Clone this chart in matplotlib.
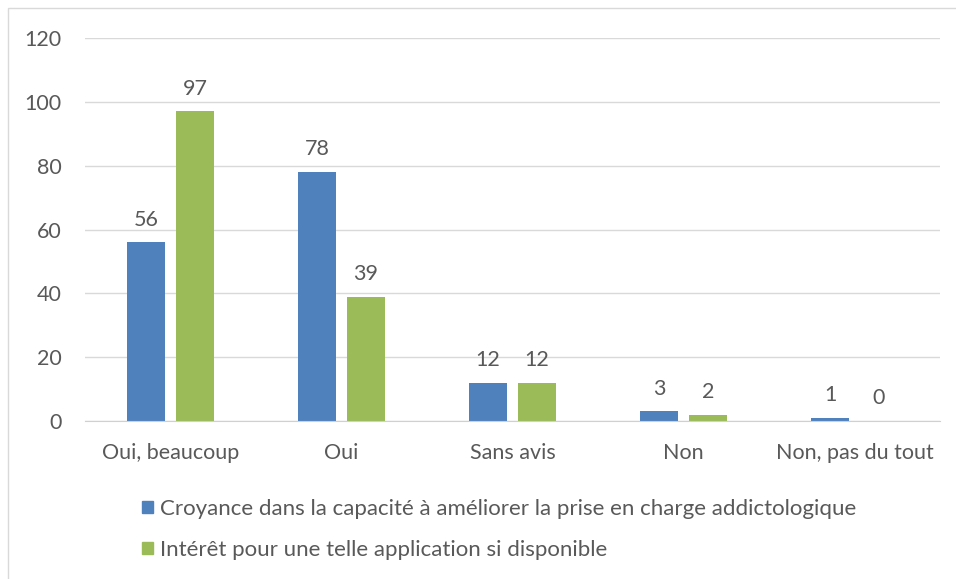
import matplotlib.pyplot as plt
import numpy as np
from matplotlib.patches import Rectangle, Patch

categories = ['Oui, beaucoup', 'Oui', 'Sans avis', 'Non', 'Non, pas du tout']
croyance = [56, 78, 12, 3, 1]
interet = [97, 39, 12, 2, 0]
series_labels = ['Croyance dans la capacité à améliorer la prise en charge addictologique',
                 'Intérêt pour une telle application si disponible']

blue = '#4F81BD'
green = '#9BBB59'
txt = '#595959'
fs = 15.5

plt.rcParams['font.family'] = ['Lato', 'DejaVu Sans']

fig = plt.figure(figsize=(9.56, 5.79), dpi=100)
W, H = 956, 579
ax = fig.add_axes([85 / W, (579 - 421) / H, (940 - 85) / W, (421 - 38) / H])

x = np.arange(len(categories))
bw = 0.222
off = 0.143
b1 = ax.bar(x - off, croyance, bw, color=blue, zorder=3)
b2 = ax.bar(x + off, interet, bw, color=green, zorder=3)

for bars, vals in ((b1, croyance), (b2, interet)):
    for r, v in zip(bars, vals):
        ax.text(r.get_x() + r.get_width() / 2, v + 4, str(v), ha='center', va='bottom',
                fontsize=fs, color=txt)

ax.set_xlim(-0.5, len(categories) - 0.5)
ax.set_ylim(0, 120)
ax.set_yticks(range(0, 121, 20))
ax.set_xticks(x)
ax.set_xticklabels(categories)
ax.tick_params(axis='both', length=0, labelsize=fs, labelcolor=txt)
ax.tick_params(axis='y', pad=17)
ax.tick_params(axis='x', pad=16)
ax.grid(axis='y', color='#D9D9D9', linewidth=1, zorder=0)
for s in ('top', 'right', 'left'):
    ax.spines[s].set_visible(False)
ax.spines['bottom'].set_color('#D0D0D0')
ax.spines['bottom'].set_zorder(4)

handles = [Patch(color=blue), Patch(color=green)]
fig.legend(handles, series_labels, loc='upper left', bbox_to_anchor=(133 / W, 1 - 490 / H),
           ncol=1, frameon=False, fontsize=16, labelcolor=txt, handlelength=0.5,
           handleheight=0.5, handletextpad=0.3, labelspacing=0.95, borderaxespad=0)

fig.patches.append(Rectangle((8 / W, -0.01), 1.02, 1 - 8 / H + 0.01, transform=fig.transFigure,
                             fill=False, edgecolor='#D9D9D9', linewidth=1))

fig.savefig('out.png', dpi=100)
